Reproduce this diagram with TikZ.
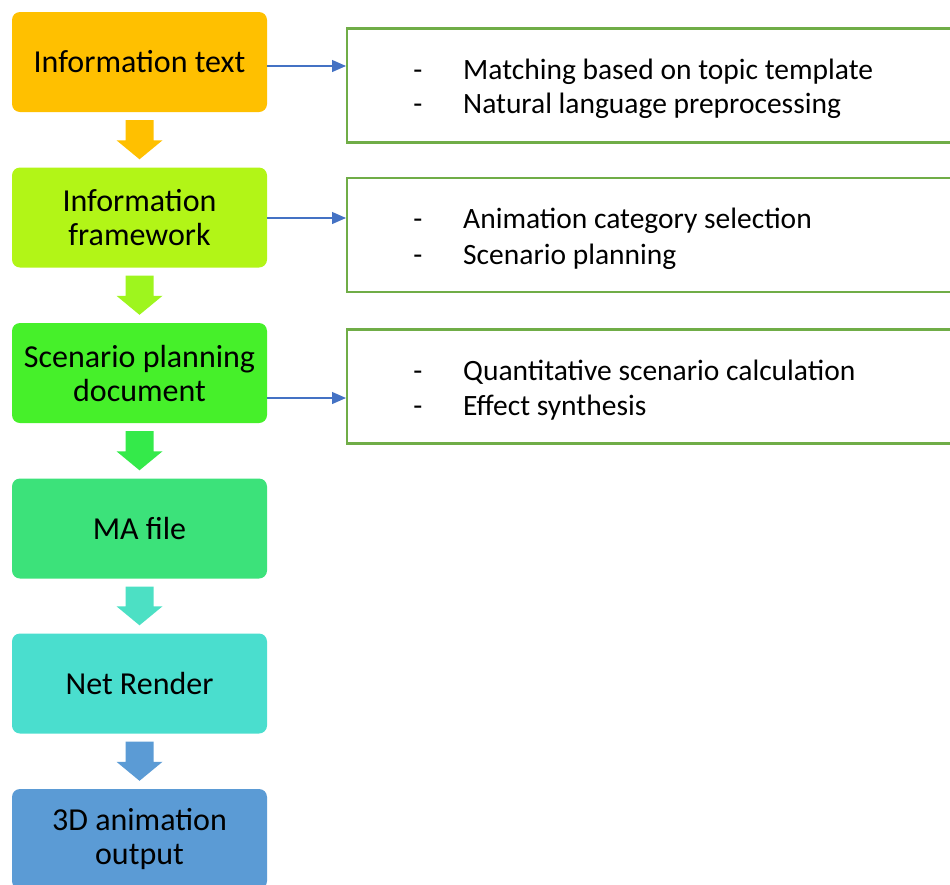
\documentclass[tikz,border=0pt]{standalone}
\usepackage{fontspec}
\setmainfont{Carlito}
\usetikzlibrary{arrows.meta,calc}
\definecolor{cA}{RGB}{255,192,0}
\definecolor{cB}{RGB}{178,245,23}
\definecolor{cC}{RGB}{70,240,42}
\definecolor{cD}{RGB}{60,226,122}
\definecolor{cE}{RGB}{74,222,206}
\definecolor{cF}{RGB}{91,155,213}
\definecolor{aB}{RGB}{158,245,30}
\definecolor{aC}{RGB}{52,234,74}
\definecolor{aD}{RGB}{76,224,196}
\definecolor{gr}{RGB}{112,173,71}
\definecolor{bl}{RGB}{68,114,196}
\newcommand\fatarr[3]{\fill[#3] ($(#1.south)+(-14,8)$) -- ($(#1.south)+(14,8)$) -- ($(#2.north)+(14,-27)$) -- ($(#2.north)+(23,-27)$) -- ($(#2.north)+(0,-8)$) -- ($(#2.north)+(-23,-27)$) -- ($(#2.north)+(-14,-27)$) -- cycle;}
\begin{document}
\begin{tikzpicture}[x=1pt,y=-1pt,
  stepbox/.style={rectangle,rounded corners=8pt,minimum width=255pt,minimum height=100pt,inner sep=0pt,align=center,font=\fontsize{32}{34}\selectfont},
  notebox/.style={rectangle,draw=gr,line width=2.2pt,minimum width=620pt,minimum height=114pt,inner sep=0pt,anchor=west},
  dashtxt/.style={anchor=base,inner sep=0pt,font=\fontsize{29.5}{34}\selectfont},
  itemtxt/.style={anchor=base west,inner sep=0pt,font=\fontsize{29.5}{34}\selectfont},
  bluearr/.style={draw=bl,line width=1.2pt,-{Triangle[length=14pt,width=12pt]}}]
\useasboundingbox (0,0) rectangle (950,884);
\node[stepbox,fill=cA] (b1) at (139.5,62) {Information text};
\node[stepbox,fill=cB] (b2) at (139.5,217.5) {Information\\framework};
\node[stepbox,fill=cC] (b3) at (139.5,373) {Scenario planning\\document};
\node[stepbox,fill=cD] (b4) at (139.5,528.5) {MA file};
\node[stepbox,fill=cE] (b5) at (139.5,683.5) {Net Render};
\node[stepbox,fill=cF] (b6) at (139.5,839) {3D animation\\output};
\fatarr{b1}{b2}{cA}
\fatarr{b2}{b3}{aB}
\fatarr{b3}{b4}{aC}
\fatarr{b4}{b5}{aD}
\fatarr{b5}{b6}{cF}
\node[notebox] (nA) at (346,85.5) {};
\node[notebox] (nB) at (346,235) {};
\node[notebox] (nC) at (346,386.5) {};
\node[dashtxt] (dA1) at (418,79) {-};
\node[itemtxt] (tA1) at (463,79) {Matching based on topic template};
\node[dashtxt] (dA2) at (418,113) {-};
\node[itemtxt] (tA2) at (463,113) {Natural language preprocessing};
\node[dashtxt] (dB1) at (418,228) {-};
\node[itemtxt] (tB1) at (463,228) {Animation category selection};
\node[dashtxt] (dB2) at (418,264) {-};
\node[itemtxt] (tB2) at (463,264) {Scenario planning};
\node[dashtxt] (dC1) at (418,380) {-};
\node[itemtxt] (tC1) at (463,380) {Quantitative scenario calculation};
\node[dashtxt] (dC2) at (418,415) {-};
\node[itemtxt] (tC2) at (463,415) {Effect synthesis};
\coordinate (pA) at ($(b1.east)+(0,4)$);
\coordinate (pB) at ($(b2.east)+(0,0.5)$);
\coordinate (pC) at ($(b3.east)+(0,25)$);
\draw[bluearr] (pA) -- (pA -| nA.west);
\draw[bluearr] (pB) -- (pB -| nB.west);
\draw[bluearr] (pC) -- (pC -| nC.west);
\end{tikzpicture}
\end{document}
